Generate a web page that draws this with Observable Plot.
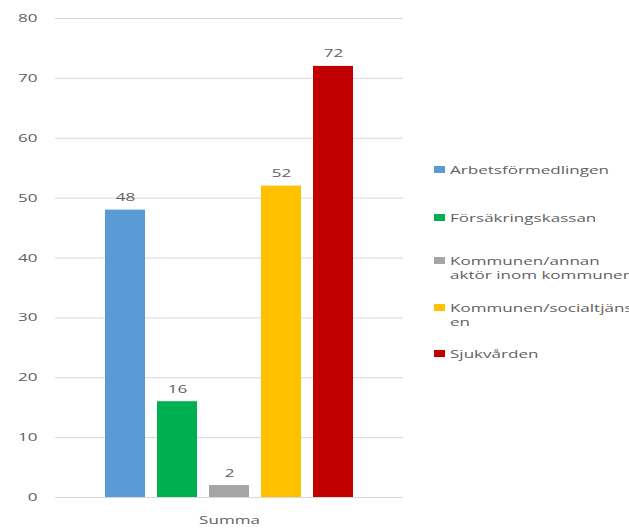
<!DOCTYPE html>
<html>
<head>
<meta charset="utf-8">
<script src="https://cdn.jsdelivr.net/npm/d3@7"></script>
<script src="https://cdn.jsdelivr.net/npm/@observablehq/plot@0.6"></script>
<style>
  html, body { margin: 0; padding: 0; background: #fff; overflow: hidden; }
  #wrap { position: relative; width: 629px; height: 530px; overflow: hidden; }
  #chart { position: absolute; left: 0; top: 0; }
  #legend { position: absolute; left: 434px; top: 0; font-family: "Open Sans", sans-serif; font-size: 11px; color: #5f5f5f; }
  .item { position: absolute; left: 0; white-space: nowrap; line-height: 13.5px; }
  .sw { position: absolute; left: 0; top: 3px; width: 11px; height: 7px; }
  .txt { position: absolute; left: 16px; top: 0; transform: scaleX(1.55); transform-origin: 0 0; }
</style>
</head>
<body>
<div id="wrap">
  <div id="chart"></div>
  <div id="legend"></div>
</div>
<script>
const group = "Summa";
const categories = ["Arbetsförmedlingen", "Försäkringskassan", "Kommunen/annan aktör inom kommunen", "Kommunen/socialtjänsten", "Sjukvården"];
const values = [48, 16, 2, 52, 72];
const colors = ["#5b9bd5", "#00b050", "#a5a5a5", "#ffc000", "#c00000"];
const legendLines = [["Arbetsförmedlingen"], ["Försäkringskassan"], ["Kommunen/annan", "aktör inom kommunen"], ["Kommunen/socialtjänst", "en"], ["Sjukvården"]];
const legendTops = [163, 211, 254, 301, 347];
const yTicks = [0, 10, 20, 30, 40, 50, 60, 70, 80];
const stretch = 1.55;

const data = categories.map((c, i) => ({group, cat: c, value: values[i]}));

const chart = Plot.plot({
  width: 420,
  height: 530,
  marginLeft: 55,
  marginRight: 17,
  marginTop: 18,
  marginBottom: 33,
  style: {fontFamily: "'Open Sans', sans-serif", fontSize: "11px", color: "#5f5f5f", background: "#fff"},
  fx: {axis: "bottom", padding: 0, label: null, tickSize: 0, tickPadding: 19},
  x: {axis: null, domain: categories, paddingInner: 0.226, paddingOuter: 0.9},
  y: {domain: [0, 80], ticks: yTicks},
  color: {domain: categories, range: colors},
  marks: [
    Plot.ruleY(yTicks, {stroke: "#d9d9d9", strokeWidth: 1}),
    Plot.axisY({ticks: yTicks, tickSize: 0, tickPadding: 18, label: null}),
    Plot.barY(data, {fx: "group", x: "cat", y: "value", fill: "cat"}),
    Plot.text(data, {fx: "group", x: "cat", y: "value", text: d => String(d.value), dy: -9, lineAnchor: "bottom", fill: "#5f5f5f"})
  ]
});

// horizontally stretch all text glyphs around their anchor (the reference is widened)
chart.querySelectorAll("text").forEach(el => {
  const t = el.getAttribute("transform") || "";
  const x = parseFloat(el.getAttribute("x") || "0") || 0;
  el.setAttribute("transform", `${t} translate(${x},0) scale(${stretch},1) translate(${-x},0)`);
});
document.getElementById("chart").appendChild(chart);

const legend = document.getElementById("legend");
categories.forEach((c, i) => {
  const item = document.createElement("div");
  item.className = "item";
  item.style.top = legendTops[i] + "px";
  const sw = document.createElement("div");
  sw.className = "sw";
  sw.style.background = colors[i];
  const txt = document.createElement("div");
  txt.className = "txt";
  txt.innerHTML = legendLines[i].map(s => s.replace(/&/g, "&amp;").replace(/</g, "&lt;")).join("<br>");
  item.appendChild(sw);
  item.appendChild(txt);
  legend.appendChild(item);
});
</script>
</body>
</html>
